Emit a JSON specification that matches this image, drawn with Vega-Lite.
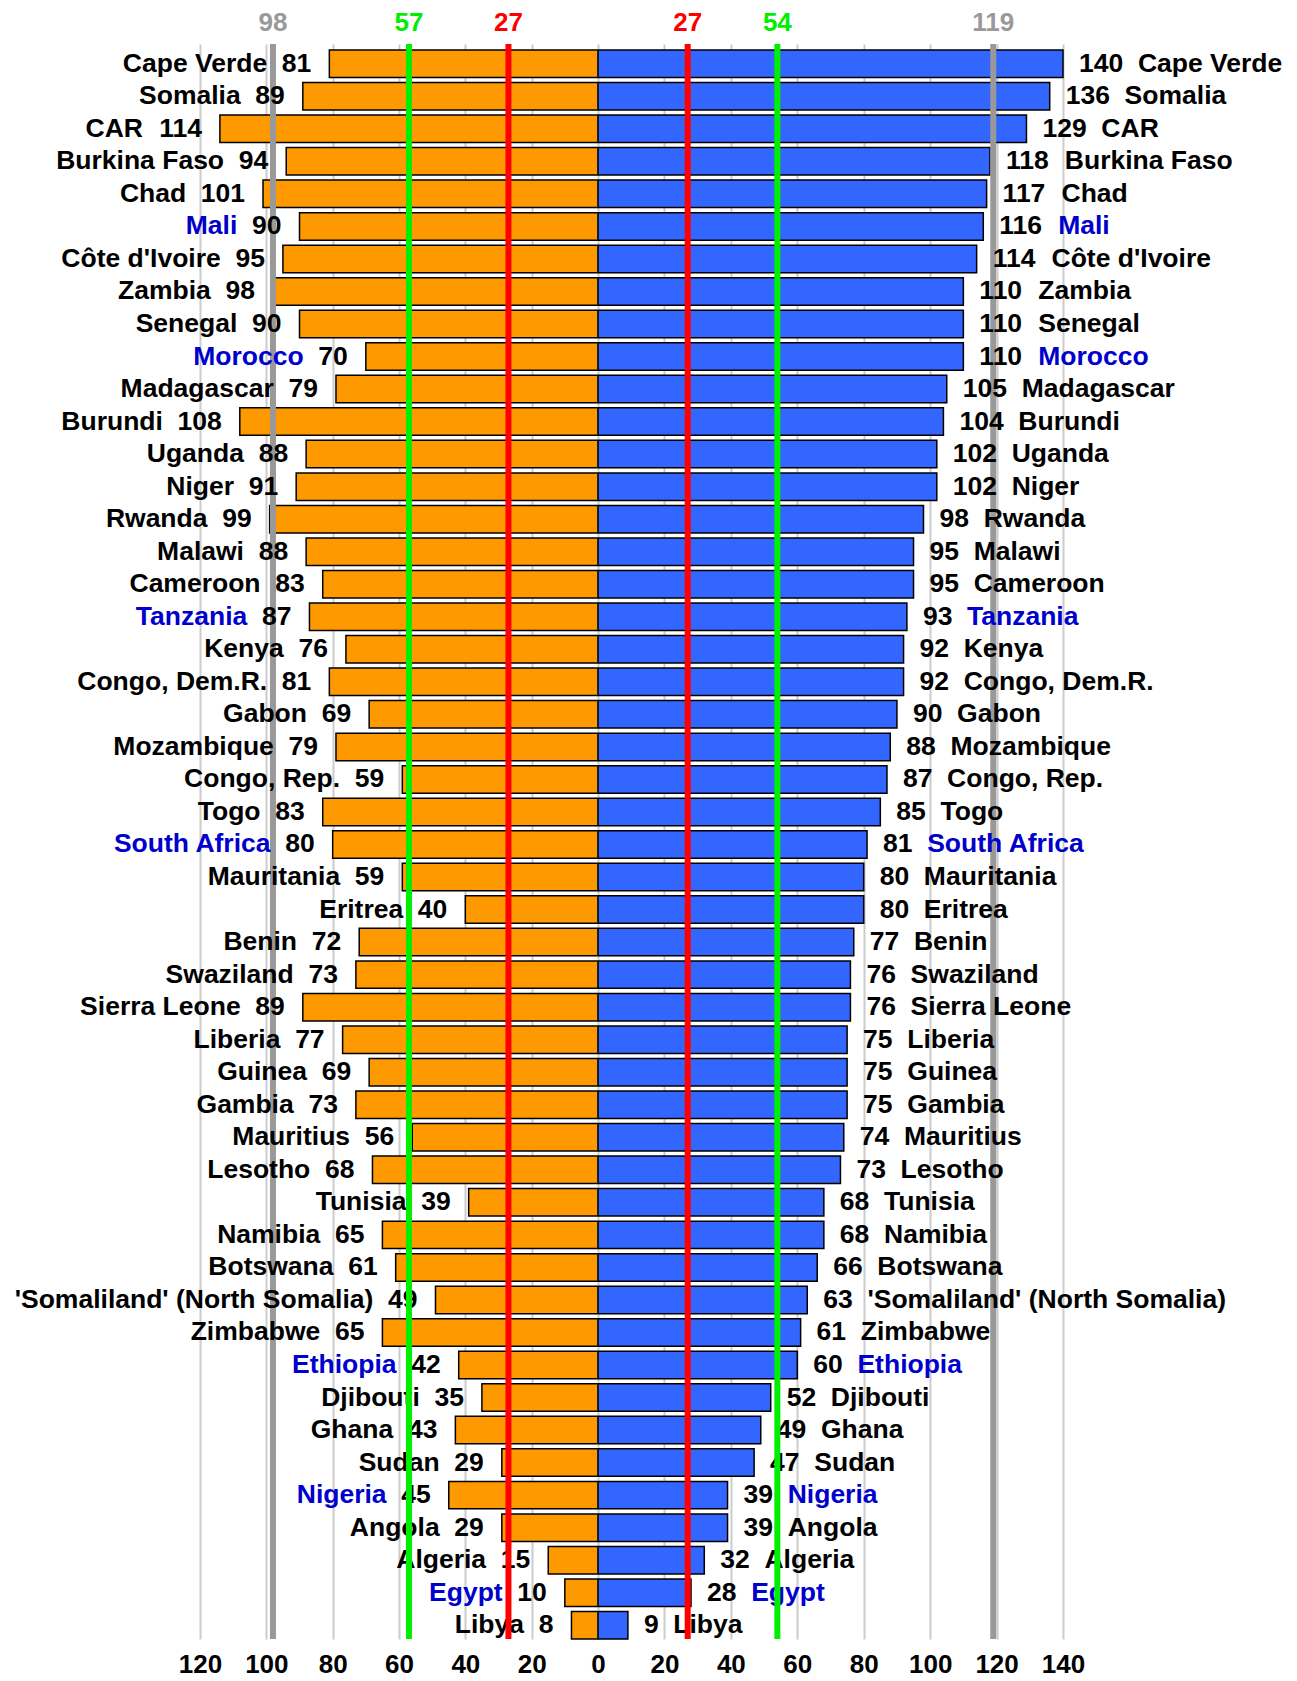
{
  "$schema": "https://vega.github.io/schema/vega-lite/v6.json",
  "padding": {"left": 14, "top": 10, "right": 5, "bottom": 0},
  "bounds": "flush",
  "spacing": 0,
  "config": {
    "view": {"stroke": null},
    "font": "Liberation Sans",
    "axis": {"labelFont": "Liberation Sans", "labelFontSize": 26, "labelFontWeight": "bold", "labelColor": "#000000", "labelFlush": false, "labelOverlap": false, "ticks": false, "domain": false, "grid": true, "gridColor": "#cccccc", "gridWidth": 2, "labelPadding": 12, "title": null}
  },
  "datasets": {
    "countries": [
      {"country": "Cape Verde", "left": 81, "right": 140, "hl": false},
      {"country": "Somalia", "left": 89, "right": 136, "hl": false},
      {"country": "CAR", "left": 114, "right": 129, "hl": false},
      {"country": "Burkina Faso", "left": 94, "right": 118, "hl": false},
      {"country": "Chad", "left": 101, "right": 117, "hl": false},
      {"country": "Mali", "left": 90, "right": 116, "hl": true},
      {"country": "Côte d'Ivoire", "left": 95, "right": 114, "hl": false},
      {"country": "Zambia", "left": 98, "right": 110, "hl": false},
      {"country": "Senegal", "left": 90, "right": 110, "hl": false},
      {"country": "Morocco", "left": 70, "right": 110, "hl": true},
      {"country": "Madagascar", "left": 79, "right": 105, "hl": false},
      {"country": "Burundi", "left": 108, "right": 104, "hl": false},
      {"country": "Uganda", "left": 88, "right": 102, "hl": false},
      {"country": "Niger", "left": 91, "right": 102, "hl": false},
      {"country": "Rwanda", "left": 99, "right": 98, "hl": false},
      {"country": "Malawi", "left": 88, "right": 95, "hl": false},
      {"country": "Cameroon", "left": 83, "right": 95, "hl": false},
      {"country": "Tanzania", "left": 87, "right": 93, "hl": true},
      {"country": "Kenya", "left": 76, "right": 92, "hl": false},
      {"country": "Congo, Dem.R.", "left": 81, "right": 92, "hl": false},
      {"country": "Gabon", "left": 69, "right": 90, "hl": false},
      {"country": "Mozambique", "left": 79, "right": 88, "hl": false},
      {"country": "Congo, Rep.", "left": 59, "right": 87, "hl": false},
      {"country": "Togo", "left": 83, "right": 85, "hl": false},
      {"country": "South Africa", "left": 80, "right": 81, "hl": true},
      {"country": "Mauritania", "left": 59, "right": 80, "hl": false},
      {"country": "Eritrea", "left": 40, "right": 80, "hl": false},
      {"country": "Benin", "left": 72, "right": 77, "hl": false},
      {"country": "Swaziland", "left": 73, "right": 76, "hl": false},
      {"country": "Sierra Leone", "left": 89, "right": 76, "hl": false},
      {"country": "Liberia", "left": 77, "right": 75, "hl": false},
      {"country": "Guinea", "left": 69, "right": 75, "hl": false},
      {"country": "Gambia", "left": 73, "right": 75, "hl": false},
      {"country": "Mauritius", "left": 56, "right": 74, "hl": false},
      {"country": "Lesotho", "left": 68, "right": 73, "hl": false},
      {"country": "Tunisia", "left": 39, "right": 68, "hl": false},
      {"country": "Namibia", "left": 65, "right": 68, "hl": false},
      {"country": "Botswana", "left": 61, "right": 66, "hl": false},
      {"country": "'Somaliland' (North Somalia)", "left": 49, "right": 63, "hl": false},
      {"country": "Zimbabwe", "left": 65, "right": 61, "hl": false},
      {"country": "Ethiopia", "left": 42, "right": 60, "hl": true},
      {"country": "Djibouti", "left": 35, "right": 52, "hl": false},
      {"country": "Ghana", "left": 43, "right": 49, "hl": false},
      {"country": "Sudan", "left": 29, "right": 47, "hl": false},
      {"country": "Nigeria", "left": 45, "right": 39, "hl": true},
      {"country": "Angola", "left": 29, "right": 39, "hl": false},
      {"country": "Algeria", "left": 15, "right": 32, "hl": false},
      {"country": "Egypt", "left": 10, "right": 28, "hl": true},
      {"country": "Libya", "left": 8, "right": 9, "hl": false}
    ],
    "refs": [
      {"side": "left", "kind": "upper", "value": 98},
      {"side": "left", "kind": "middle", "value": 57},
      {"side": "left", "kind": "lower", "value": 27},
      {"side": "right", "kind": "lower", "value": 27},
      {"side": "right", "kind": "middle", "value": 54},
      {"side": "right", "kind": "upper", "value": 119}
    ]
  },
  "hconcat": [
    {
      "width": 398,
      "height": 1595,
      "layer": [
        {
          "data": {"name": "countries"},
          "mark": {"type": "bar", "color": "#ff9900", "stroke": "#000000", "strokeWidth": 1.5},
          "encoding": {
            "y": {"field": "country", "type": "nominal", "sort": null, "axis": null, "scale": {"paddingInner": 0.155, "paddingOuter": 0.092, "align": 1}},
            "x": {"field": "left", "type": "quantitative", "scale": {"domain": [0, 120], "reverse": true, "nice": false}, "axis": {"values": [20, 40, 60, 80, 100, 120]}}
          }
        },
        {
          "data": {"name": "refs"},
          "transform": [{"filter": "datum.side == 'left' && datum.kind == 'upper'"}],
          "mark": {"type": "rule", "strokeWidth": 6},
          "encoding": {
            "x": {"field": "value", "type": "quantitative"},
            "color": {"field": "kind", "type": "nominal", "scale": {"domain": ["upper", "middle", "lower"], "range": ["#999999", "#00ee00", "#ff0000"]}, "legend": null}
          }
        },
        {
          "data": {"name": "countries"},
          "mark": {"type": "text", "align": "right", "baseline": "middle", "dx": {"expr": "-(32.7 + 14.73 * length(toString(datum.left)))"}, "fontSize": 26.5, "fontWeight": "bold"},
          "encoding": {
            "y": {"field": "country", "type": "nominal", "sort": null},
            "x": {"field": "left", "type": "quantitative"},
            "text": {"field": "country", "type": "nominal"},
            "color": {"condition": {"test": "datum.hl", "value": "#0000cc"}, "value": "#000000"}
          }
        },
        {
          "data": {"name": "countries"},
          "mark": {"type": "text", "align": "right", "baseline": "middle", "dx": -18, "fontSize": 26.5, "fontWeight": "bold", "color": "#000000"},
          "encoding": {
            "y": {"field": "country", "type": "nominal", "sort": null},
            "x": {"field": "left", "type": "quantitative"},
            "text": {"field": "left", "type": "nominal"}
          }
        },
        {
          "data": {"name": "refs"},
          "transform": [{"filter": "datum.side == 'left' && datum.kind != 'upper'"}],
          "mark": {"type": "rule", "strokeWidth": 6},
          "encoding": {
            "x": {"field": "value", "type": "quantitative"},
            "color": {"field": "kind", "type": "nominal", "legend": null}
          }
        },
        {
          "data": {"name": "refs"},
          "transform": [{"filter": "datum.side == 'left'"}],
          "mark": {"type": "text", "baseline": "alphabetic", "dy": -13, "fontSize": 26, "fontWeight": "bold"},
          "encoding": {
            "x": {"field": "value", "type": "quantitative"},
            "y": {"value": 0},
            "text": {"field": "value", "type": "nominal"},
            "color": {"field": "kind", "type": "nominal", "legend": null}
          }
        }
      ]
    },
    {
      "width": 465,
      "height": 1595,
      "layer": [
        {
          "data": {"name": "countries"},
          "mark": {"type": "bar", "color": "#3366ff", "stroke": "#000000", "strokeWidth": 1.5},
          "encoding": {
            "y": {"field": "country", "type": "nominal", "sort": null, "axis": null, "scale": {"paddingInner": 0.155, "paddingOuter": 0.092, "align": 1}},
            "x": {"field": "right", "type": "quantitative", "scale": {"domain": [0, 140], "nice": false}, "axis": {"values": [0, 20, 40, 60, 80, 100, 120, 140]}}
          }
        },
        {
          "data": {"name": "refs"},
          "transform": [{"filter": "datum.side == 'right' && datum.kind == 'upper'"}],
          "mark": {"type": "rule", "strokeWidth": 6},
          "encoding": {
            "x": {"field": "value", "type": "quantitative"},
            "color": {"field": "kind", "type": "nominal", "scale": {"domain": ["upper", "middle", "lower"], "range": ["#999999", "#00ee00", "#ff0000"]}, "legend": null}
          }
        },
        {
          "data": {"name": "countries"},
          "mark": {"type": "text", "align": "left", "baseline": "middle", "dx": {"expr": "30.7 + 14.73 * length(toString(datum.right))"}, "fontSize": 26.5, "fontWeight": "bold"},
          "encoding": {
            "y": {"field": "country", "type": "nominal", "sort": null},
            "x": {"field": "right", "type": "quantitative"},
            "text": {"field": "country", "type": "nominal"},
            "color": {"condition": {"test": "datum.hl", "value": "#0000cc"}, "value": "#000000"}
          }
        },
        {
          "data": {"name": "countries"},
          "mark": {"type": "text", "align": "left", "baseline": "middle", "dx": 16, "fontSize": 26.5, "fontWeight": "bold", "color": "#000000"},
          "encoding": {
            "y": {"field": "country", "type": "nominal", "sort": null},
            "x": {"field": "right", "type": "quantitative"},
            "text": {"field": "right", "type": "nominal"}
          }
        },
        {
          "data": {"name": "refs"},
          "transform": [{"filter": "datum.side == 'right' && datum.kind != 'upper'"}],
          "mark": {"type": "rule", "strokeWidth": 6},
          "encoding": {
            "x": {"field": "value", "type": "quantitative"},
            "color": {"field": "kind", "type": "nominal", "legend": null}
          }
        },
        {
          "data": {"name": "refs"},
          "transform": [{"filter": "datum.side == 'right'"}],
          "mark": {"type": "text", "baseline": "alphabetic", "dy": -13, "fontSize": 26, "fontWeight": "bold"},
          "encoding": {
            "x": {"field": "value", "type": "quantitative"},
            "y": {"value": 0},
            "text": {"field": "value", "type": "nominal"},
            "color": {"field": "kind", "type": "nominal", "legend": null}
          }
        }
      ]
    }
  ]
}
